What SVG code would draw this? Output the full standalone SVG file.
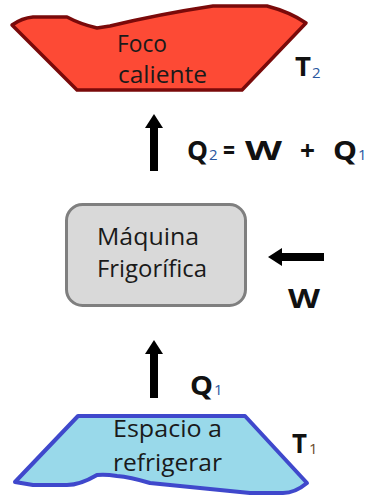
<svg xmlns="http://www.w3.org/2000/svg" width="367" height="499" viewBox="0 0 367 499">
  <style>
    .lbl { font-family: "Open Sans", "Liberation Sans", sans-serif; font-size: 23px; fill: #1a1a1a; }
    .big { font-family: "Open Sans", "Liberation Sans", sans-serif; font-weight: bold; font-size: 26px; fill: #111; }
    .sub { font-family: "Open Sans", "Liberation Sans", sans-serif; font-size: 15px; }
    .flow { stroke: #000; stroke-width: 8; fill: none; marker-end: url(#head); }
  </style>
  <defs>
    <marker id="head" markerUnits="userSpaceOnUse" viewBox="0 0 14 18" markerWidth="14" markerHeight="18" refX="1" refY="9" orient="auto">
      <path d="M0,0 L14,9 L0,18 Z" fill="#000"/>
    </marker>
  </defs>
  <rect width="367" height="499" fill="#fff"/>

  <!-- hot reservoir -->
  <g id="foco-caliente">
    <path d="M12,25 Q22,18 33,17 L67,17 Q80,24 97,28 L110,26 Q160,14 213,6 L267,6 Q290,12 306,23 L242,90 L77,90 Z" fill="#fd4a35" stroke="#7a0a0a" stroke-width="3.5" stroke-linejoin="round"/>
    <text class="lbl" x="117" y="52" textLength="50" lengthAdjust="spacingAndGlyphs">Foco</text>
    <text class="lbl" x="118" y="83" textLength="89" lengthAdjust="spacingAndGlyphs">caliente</text>
    <text class="big" x="295" y="76" font-size="30" textLength="16" lengthAdjust="spacingAndGlyphs">T</text>
    <text class="sub" x="312" y="78" fill="#2a57a0">2</text>
  </g>

  <!-- refrigerating machine -->
  <g id="maquina">
    <rect x="66.5" y="204.5" width="179" height="101" rx="16" ry="16" fill="#d9d9d9" stroke="#7f7f7f" stroke-width="3"/>
    <text class="lbl" x="97" y="245" textLength="102" lengthAdjust="spacingAndGlyphs">Máquina</text>
    <text class="lbl" x="97" y="277" textLength="110" lengthAdjust="spacingAndGlyphs">Frigorífica</text>
  </g>

  <!-- cold space -->
  <g id="espacio-frio">
    <path d="M78,416 L245,416 L307,483 Q295,493 283,493 L250,493 L200,488 L150,483 Q130,477 117,476 Q105,474 97,475 Q80,485 67,485 L33,485 L15,482 Z" fill="#99d9ea" stroke="#3f48cc" stroke-width="4" stroke-linejoin="round"/>
    <text class="lbl" x="113" y="437" textLength="109" lengthAdjust="spacingAndGlyphs">Espacio a</text>
    <text class="lbl" x="113" y="471" textLength="109" lengthAdjust="spacingAndGlyphs">refrigerar</text>
    <text class="big" x="292" y="453" font-size="30" textLength="15" lengthAdjust="spacingAndGlyphs">T</text>
    <text class="sub" x="309" y="454" font-size="16" fill="#6b4a2a">1</text>
  </g>

  <!-- energy flows -->
  <g id="connectors">
    <line class="flow" x1="154" y1="171" x2="154" y2="127"/>
    <line class="flow" x1="154" y1="398" x2="154" y2="353"/>
    <line class="flow" x1="324" y1="257" x2="281" y2="257"/>
  </g>

  <g id="flow-labels">
    <text class="big" x="187" y="160" textLength="21" lengthAdjust="spacingAndGlyphs">Q</text>
    <text class="sub" x="209" y="160" fill="#2a57a0">2</text>
    <text class="big" x="223" y="160" textLength="12" lengthAdjust="spacingAndGlyphs">=</text>
    <text class="big" x="245" y="160" textLength="37" lengthAdjust="spacingAndGlyphs">W</text>
    <text class="big" x="300" y="160" textLength="15" lengthAdjust="spacingAndGlyphs">+</text>
    <text class="big" x="333" y="160" textLength="24" lengthAdjust="spacingAndGlyphs">Q</text>
    <text class="sub" x="358" y="160" fill="#2a57a0">1</text>

    <text class="big" x="288" y="308" textLength="32" lengthAdjust="spacingAndGlyphs">W</text>

    <text class="big" x="190" y="395" textLength="23" lengthAdjust="spacingAndGlyphs">Q</text>
    <text class="sub" x="214" y="395" fill="#2a57a0">1</text>
  </g>
</svg>
